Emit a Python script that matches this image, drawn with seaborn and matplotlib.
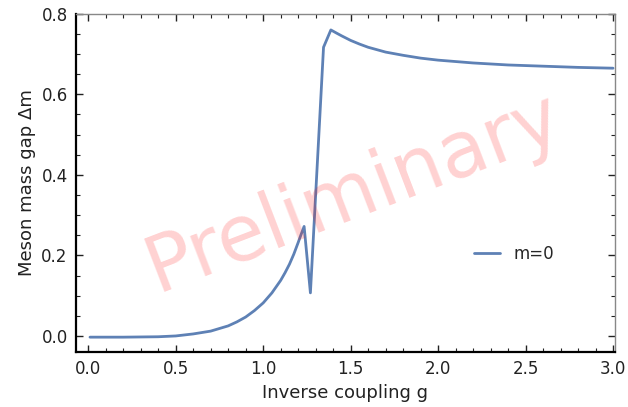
import numpy as np
import pandas as pd
import seaborn as sns
import matplotlib.pyplot as plt
from matplotlib.ticker import MultipleLocator

# data (m=0 curve)
g_vals = [0.01, 0.2, 0.4, 0.5, 0.6, 0.7, 0.8, 0.85, 0.9, 0.95, 1.0, 1.05, 1.1, 1.125, 1.15,
          1.175, 1.2, 1.215, 1.234, 1.27, 1.345, 1.387, 1.42, 1.45, 1.5, 1.55, 1.6, 1.7,
          1.8, 1.9, 2.0, 2.2, 2.4, 2.6, 2.8, 3.0]
gap_vals = [-0.003, -0.003, -0.002, 0.0, 0.005, 0.012, 0.025, 0.035, 0.047, 0.063, 0.082,
            0.107, 0.138, 0.157, 0.178, 0.203, 0.232, 0.25, 0.272, 0.107, 0.717, 0.760,
            0.752, 0.745, 0.734, 0.725, 0.717, 0.705, 0.697, 0.690, 0.685, 0.678, 0.673,
            0.670, 0.667, 0.665]

df = pd.DataFrame({'g': g_vals, 'gap': gap_vals})

sns.set_style("ticks")
plt.rcParams['font.family'] = ['DejaVu Sans']

fig = plt.figure(figsize=(6.28, 4.07), dpi=100)
ax = fig.add_axes([0.121, 0.135, 0.858, 0.831])

sns.lineplot(data=df, x='g', y='gap', color='#5E81B5', linewidth=2, label='m=0', ax=ax)

ax.set_xlim(-0.07, 3.01)
ax.set_ylim(-0.04, 0.8)
ax.xaxis.set_major_locator(MultipleLocator(0.5))
ax.xaxis.set_minor_locator(MultipleLocator(0.1))
ax.yaxis.set_major_locator(MultipleLocator(0.2))
ax.yaxis.set_minor_locator(MultipleLocator(0.05))
ax.xaxis.set_major_formatter(plt.FormatStrFormatter('%.1f'))
ax.yaxis.set_major_formatter(plt.FormatStrFormatter('%.1f'))

ax.tick_params(which='both', direction='in', top=True, right=True, labelsize=12, colors='#222222')
ax.tick_params(which='major', length=5, width=1, pad=6)
ax.tick_params(which='minor', length=3, width=0.8)

for s in ['left', 'bottom']:
    ax.spines[s].set_color('black')
    ax.spines[s].set_linewidth(1.6)
for s in ['top', 'right']:
    ax.spines[s].set_color('#888888')
    ax.spines[s].set_linewidth(1)

ax.set_xlabel('Inverse coupling g', fontsize=13, color='#222222')
ax.set_ylabel('Meson mass gap Δm', fontsize=13, color='#222222')

ax.legend(loc='center left', bbox_to_anchor=(0.71, 0.29), frameon=False, fontsize=12,
          handlelength=1.6)

# watermark
ax.text(0.515, 0.47, 'Preliminary', transform=ax.transAxes, fontsize=56, color='red',
        alpha=0.18, rotation=21, ha='center', va='center', zorder=5)

plt.savefig('out.png', dpi=100)
